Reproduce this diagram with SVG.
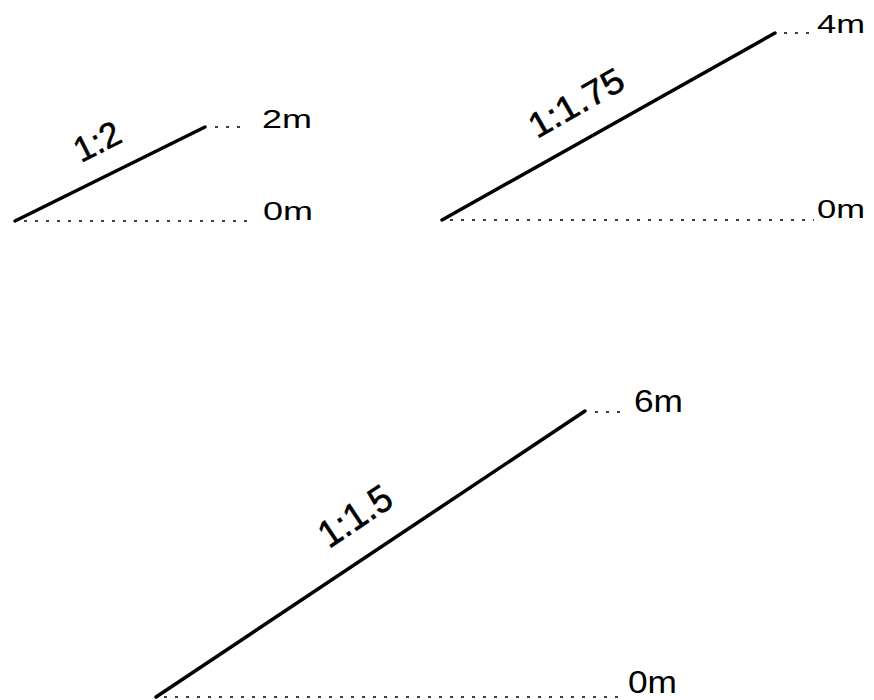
<svg xmlns="http://www.w3.org/2000/svg" width="874" height="700" viewBox="0 0 874 700">
<style>
.slope{stroke:#000;stroke-width:3.5;stroke-linecap:round;fill:none}
.dot{stroke:#000;stroke-width:1.6;stroke-dasharray:3 8;fill:none}
.lvl{font-family:"Liberation Sans",Arial,sans-serif;fill:#000;font-size:25px}
.lvlb{font-family:"Liberation Sans",Arial,sans-serif;fill:#000;font-size:32px}
.rat{font-family:"Liberation Sans",Arial,sans-serif;fill:#000;stroke:#000;stroke-width:0.6;font-size:35px}
</style>
<rect width="874" height="700" fill="#fff"/>
<g id="slope-1-2">
<line class="slope" x1="15" y1="221" x2="205" y2="127"/>
<line class="dot" x1="215" y1="127" x2="246" y2="127"/>
<line class="dot" x1="24" y1="221" x2="254" y2="221"/>
<text class="lvl" x="262" y="128" textLength="50" lengthAdjust="spacingAndGlyphs">2m</text>
<text class="lvl" x="263" y="220" textLength="50" lengthAdjust="spacingAndGlyphs">0m</text>
<text class="rat" transform="translate(81,163) rotate(-26.57)" textLength="48" lengthAdjust="spacingAndGlyphs">1:2</text>
</g>
<g id="slope-1-1.75">
<line class="slope" x1="442" y1="220" x2="775" y2="33"/>
<line class="dot" x1="784" y1="33" x2="814" y2="33"/>
<line class="dot" x1="450" y1="220" x2="814" y2="220"/>
<text class="lvl" x="817" y="33" textLength="48" lengthAdjust="spacingAndGlyphs">4m</text>
<text class="lvl" x="817" y="218" textLength="48" lengthAdjust="spacingAndGlyphs">0m</text>
<text class="rat" transform="translate(537,139) rotate(-29.74)" textLength="104" lengthAdjust="spacingAndGlyphs">1:1.75</text>
</g>
<g id="slope-1-1.5">
<line class="slope" x1="156" y1="697" x2="585" y2="411"/>
<line class="dot" x1="595" y1="412" x2="626" y2="412"/>
<line class="dot" x1="164" y1="697" x2="626" y2="697"/>
<text class="lvlb" x="634" y="412" textLength="49" lengthAdjust="spacingAndGlyphs">6m</text>
<text class="lvlb" x="628" y="693" textLength="49" lengthAdjust="spacingAndGlyphs">0m</text>
<text class="rat" style="font-size:38px" transform="translate(329,549) rotate(-33.69)" textLength="80" lengthAdjust="spacingAndGlyphs">1:1.5</text>
</g>
</svg>
